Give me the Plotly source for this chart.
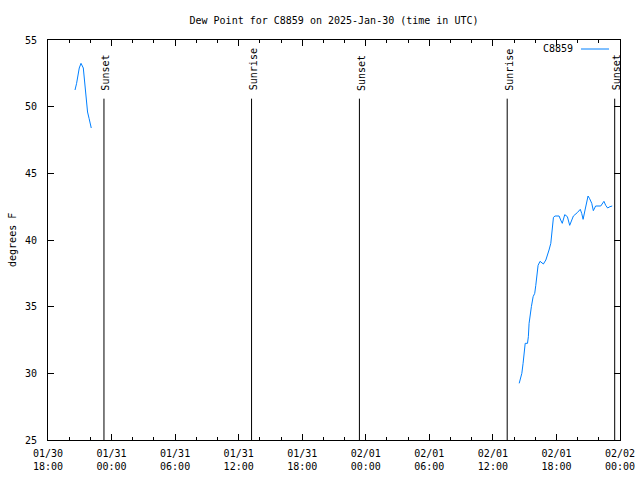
import plotly.graph_objects as go

# ---- data ----
times_a = ["2025-01-30 20:33", "2025-01-30 20:42", "2025-01-30 20:57", "2025-01-30 21:07",
           "2025-01-30 21:20", "2025-01-30 21:29", "2025-01-30 21:35", "2025-01-30 21:44",
           "2025-01-30 21:53", "2025-01-30 22:05"]
dew_a = [51.25, 51.75, 52.9, 53.25, 52.9, 51.5, 50.5, 49.6, 49.1, 48.4]

times_b = ["2025-02-01 14:29", "2025-02-01 14:44", "2025-02-01 14:51", "2025-02-01 14:57",
           "2025-02-01 15:03", "2025-02-01 15:16", "2025-02-01 15:21", "2025-02-01 15:25",
           "2025-02-01 15:31", "2025-02-01 15:38", "2025-02-01 15:48", "2025-02-01 15:57",
           "2025-02-01 16:03", "2025-02-01 16:09", "2025-02-01 16:16", "2025-02-01 16:27",
           "2025-02-01 16:46", "2025-02-01 17:00", "2025-02-01 17:09", "2025-02-01 17:18",
           "2025-02-01 17:28", "2025-02-01 17:34", "2025-02-01 17:37", "2025-02-01 17:43",
           "2025-02-01 17:52", "2025-02-01 18:15", "2025-02-01 18:24", "2025-02-01 18:33",
           "2025-02-01 18:47", "2025-02-01 19:02", "2025-02-01 19:15", "2025-02-01 19:27",
           "2025-02-01 19:36", "2025-02-01 19:58", "2025-02-01 20:15", "2025-02-01 20:23",
           "2025-02-01 20:31", "2025-02-01 20:42", "2025-02-01 20:49", "2025-02-01 20:59",
           "2025-02-01 21:08", "2025-02-01 21:20", "2025-02-01 21:29", "2025-02-01 21:42",
           "2025-02-01 22:11", "2025-02-01 22:29", "2025-02-01 22:39", "2025-02-01 22:50",
           "2025-02-01 23:03", "2025-02-01 23:16"]
dew_b = [29.25, 30.0, 30.75, 31.75, 32.25, 32.25, 32.75, 33.75, 34.5, 35.0, 35.75, 36.0,
         36.6, 37.5, 38.1, 38.4, 38.2, 38.5, 38.8, 39.25, 39.75, 40.5, 41.25, 41.7,
         41.8, 41.8, 41.5, 41.25, 41.9, 41.75, 41.1, 41.55, 41.8, 42.05, 42.3, 42.0,
         41.55, 42.25, 42.6, 43.3, 43.1, 42.75, 42.2, 42.55, 42.55, 42.9, 42.6, 42.4,
         42.5, 42.55]

sun_times = ["2025-01-30 23:17", "2025-01-31 13:13", "2025-01-31 23:24",
             "2025-02-01 13:21", "2025-02-01 23:30"]
sun_labels = ["Sunset", "Sunrise", "Sunset", "Sunrise", "Sunset"]
sun_line_top = 50.6

station = "C8859"
title = "Dew Point for C8859 on 2025-Jan-30 (time in UTC)"
x_range = ["2025-01-30 18:00", "2025-02-02 00:00"]
y_range = [25, 55]

FONT = "DejaVu Sans Mono"
LINE_COLOR = "rgb(0,128,255)"

fig = go.Figure()
fig.add_trace(go.Scatter(
    x=times_a + [None] + times_b,
    y=dew_a + [None] + dew_b,
    mode="lines",
    line=dict(color=LINE_COLOR, width=1),
    connectgaps=False,
    showlegend=False,
    name=station,
))

shapes = []
annotations = []
for t, lab in zip(sun_times, sun_labels):
    shapes.append(dict(type="line", xref="x", yref="y", x0=t, x1=t,
                       y0=y_range[0], y1=sun_line_top,
                       line=dict(color="black", width=1)))
    annotations.append(dict(x=t, y=sun_line_top, xref="x", yref="y",
                            text=lab, showarrow=False, textangle=-90,
                            xanchor="center", yanchor="bottom",
                            xshift=2, yshift=6,
                            font=dict(family=FONT, size=10, color="black")))

# legend (gnuplot style: text then line sample)
annotations.append(dict(x=0.9213, y=0.98, xref="paper", yref="paper",
                        text=station, showarrow=False, xanchor="right",
                        yanchor="middle",
                        font=dict(family=FONT, size=10, color="black")))
shapes.append(dict(type="line", xref="paper", yref="paper",
                   x0=0.9318, x1=0.9808, y0=0.9775, y1=0.9775,
                   line=dict(color=LINE_COLOR, width=1)))

# y axis title
annotations.append(dict(x=-0.063, y=0.5, xref="paper", yref="paper",
                        text="degrees F", showarrow=False, textangle=-90,
                        xanchor="center", yanchor="middle",
                        font=dict(family=FONT, size=10, color="black")))

fig.update_layout(
    width=640, height=480,
    margin=dict(l=48, r=20, t=40, b=40),
    paper_bgcolor="white", plot_bgcolor="white",
    font=dict(family=FONT, size=10, color="black"),
    title=dict(text=title, x=0.5, xref="paper", y=1 - 20 / 480, yanchor="middle",
               xanchor="center", font=dict(family=FONT, size=10, color="black")),
    shapes=shapes,
    annotations=annotations,
    showlegend=False,
)

fig.update_xaxes(
    type="date", range=x_range, dtick=6 * 3600 * 1000, tick0="2025-01-30 18:00",
    tickformat="%m/%d<br>%H:%M", ticks="inside", ticklen=6, tickcolor="black",
    showline=True, linecolor="black", linewidth=1, mirror="ticks",
    showgrid=False, zeroline=False, ticklabelstandoff=4, automargin=False,
    minor=dict(dtick=2 * 3600 * 1000, ticks="inside", ticklen=3, tickcolor="black",
               showgrid=False),
)
fig.update_yaxes(
    range=y_range, dtick=5, ticks="inside", ticklen=6, tickcolor="black",
    showline=True, linecolor="black", linewidth=1, mirror="ticks",
    showgrid=False, zeroline=False, ticklabelstandoff=8, automargin=False,
)

fig.write_html("out.html")
